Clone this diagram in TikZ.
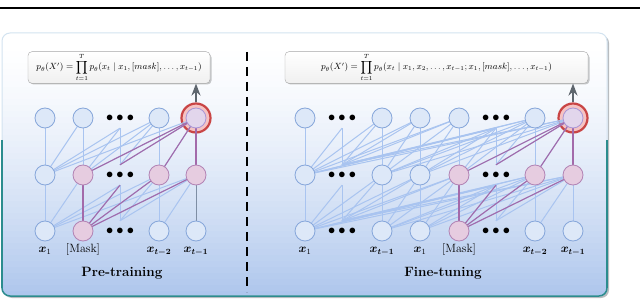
\documentclass[tikz,border=0pt]{standalone}
\usepackage{amsmath}
\usepackage{bm}
\usetikzlibrary{arrows.meta,positioning}

\definecolor{nodeblue}{HTML}{DDE8F8}
\definecolor{nodeblueline}{HTML}{86A6DA}
\definecolor{nodepurple}{HTML}{E6CCE0}
\definecolor{nodepurpleline}{HTML}{B283B4}
\definecolor{edgeblue}{HTML}{A9C4F0}
\definecolor{edgepurple}{HTML}{A36AAA}
\definecolor{edgegray}{HTML}{7E8EA4}
\definecolor{ringred}{HTML}{C94545}
\definecolor{ringfill}{HTML}{F5C3C3}
\definecolor{innerfill}{HTML}{E2D6EC}
\definecolor{innerline}{HTML}{A996D6}
\definecolor{arrowgray}{HTML}{5E666E}
\definecolor{panelbot}{HTML}{ABC4EC}
\definecolor{panellight}{HTML}{D3E3F0}
\definecolor{panelteal}{HTML}{2B8C8E}
\definecolor{shadowgray}{HTML}{B8BCC0}
\definecolor{boxshadow}{HTML}{C4C6C8}

\pgfdeclarelayer{bg}
\pgfdeclarelayer{edges}
\pgfsetlayers{bg,edges,main}

\begin{document}
\begin{tikzpicture}[x=1pt, y=-1pt, >=Stealth,
    tok/.style={circle, draw=nodeblueline, fill=nodeblue, line width=0.8pt, minimum size=20pt, inner sep=0pt},
    mtok/.style={tok, draw=nodepurpleline, fill=nodepurple},
    ringtok/.style={circle, draw=ringred, fill=ringfill, line width=2.2pt, minimum size=29pt, inner sep=0pt},
    innertok/.style={tok, draw=innerline, fill=innerfill},
    dotsnode/.style={minimum width=22pt, minimum height=20pt, inner sep=0pt, font=\fontsize{14}{14}\selectfont},
    blueedge/.style={edgeblue, line width=1pt},
    purpleedge/.style={edgepurple, line width=1.1pt},
    lbl/.style={font=\fontsize{12}{12}\selectfont, text height=8pt, text depth=3pt, inner sep=0pt},
    titlelbl/.style={font=\fontsize{13.5}{15}\selectfont\bfseries},
    formbox/.style={draw=gray!70, rounded corners=4pt, top color=white, bottom color=gray!12,
        font=\fontsize{9}{10}\selectfont, inner sep=2pt}]
    \useasboundingbox (0,0) rectangle (640,302);

    % Đường kẻ đầu trang
    \draw[line width=2pt] (0,8) -- (640,8);

    % Khung nền
    \begin{pgfonlayer}{bg}
        \fill[shadowgray, rounded corners=8pt] (4,35) rectangle (609,298);
        \begin{scope}
            \clip[rounded corners=8pt] (2,33) rectangle (607,296);
            \foreach \s in {0,...,43}{
                \pgfmathtruncatemacro\yy{33+6*\s}
                \pgfmathtruncatemacro\pc{100*((\yy-33)/263)^1.5}
                \fill[panelbot!\pc!white] (0,\yy) rectangle (610,300);
            }
        \end{scope}
        \draw[panellight, line width=1pt, rounded corners=8pt] (2,33) rectangle (607,296);
        % Viền xanh két phía dưới
        \draw[panelteal, line width=1.5pt] (2,140) -- (2,288);
        \draw[panelteal, line width=1.5pt] (2,288) arc[start angle=180, end angle=90, radius=8]
            -- (599,296) arc[start angle=90, end angle=0, radius=8];
        \draw[panelteal, line width=1.5pt] (607,288) -- (607,140);
        % Bóng của hai khung công thức
        \fill[boxshadow, rounded corners=4pt] (29.5,53.5) rectangle (211.5,84.5);
        \fill[boxshadow, rounded corners=4pt] (286.5,53.5) rectangle (589.5,84.5);
    \end{pgfonlayer}

    % Đường phân cách nét đứt
    \draw[line width=2.6pt, dash pattern=on 9pt off 6pt] (247,52) -- (247,292);

    % ===== Pre-training =====
    % Các nút
    \foreach \k/\x/\st in {1/45/tok,2/83/mtok,4/159/tok,5/196/tok}
        \node[\st] (Lb\k) at (\x,231) {};
    \foreach \k/\x/\st in {1/45/tok,2/83/mtok,4/159/mtok,5/196/mtok}
        \node[\st] (Lm\k) at (\x,175) {};
    \foreach \k/\x in {1/45,2/83,4/159}
        \node[tok] (Lt\k) at (\x,118) {};
    \foreach \r/\y in {b/231,m/175,t/118}
        \node[dotsnode] (L\r3) at (120,\y) {$\bullet\bullet\bullet$};
    \begin{pgfonlayer}{edges}
        \node[ringtok] (Lt5) at (196,118) {};
    \end{pgfonlayer}
    \node[innertok] (Lt5c) at (Lt5) {};

    % Các cạnh
    \begin{pgfonlayer}{edges}
        \foreach \i in {1,...,5}{
            \foreach \j in {1,...,\i}{
                \def\ao{center}\def\ai{center}
                \ifnum\j=3 \def\ao{north}\fi
                \ifnum\i=3 \def\ai{south}\fi
                \draw[blueedge] (Lb\j.\ao) -- (Lm\i.\ai);
                \draw[blueedge] (Lm\j.\ao) -- (Lt\i.\ai);
            }
        }
        \draw[edgegray, line width=0.9pt] (Lb5) -- (Lm5);
        \foreach \i/\ai in {2/center,3/south,4/center,5/center}
            \draw[purpleedge] (Lb2.center) -- (Lm\i.\ai);
        \foreach \j/\ao in {2/center,3/north,4/center,5/center}
            \draw[purpleedge] (Lm\j.\ao) -- (Lt5.center);
    \end{pgfonlayer}

    % Nhãn đầu vào
    \node[lbl, below=3pt of Lb1] (Llb1) {$\bm{x}_1$};
    \node[lbl, below=3pt of Lb2] (Llb2) {[Mask]};
    \node[lbl, below=3pt of Lb4] (Llb4) {$\bm{x}_{\bm{t-2}}$};
    \node[lbl, below=3pt of Lb5] (Llb5) {$\bm{x}_{\bm{t-1}}$};
    \node[titlelbl] (Ltitle) at (122,273) {Pre-training};

    % Công thức và mũi tên
    \node[formbox, minimum width=182pt, minimum height=31pt] (Lbox) at (119,67.5)
        {$p_\theta(X') = \displaystyle\prod_{t=1}^{T} p_\theta(x_t \mid x_1, [mask], \ldots, x_{t-1})$};
    \draw[->, arrowgray, line width=2pt] (Lt5.north) -- (Lt5.north |- Lbox.south);

    % ===== Fine-tuning =====
    % Các nút
    \foreach \k/\x/\st in {1/305/tok,3/382/tok,4/420/tok,5/459/mtok,7/535/tok,8/573/tok}
        \node[\st] (Rb\k) at (\x,231) {};
    \foreach \k/\x/\st in {1/305/tok,3/382/tok,4/420/tok,5/459/mtok,7/535/mtok,8/573/mtok}
        \node[\st] (Rm\k) at (\x,175) {};
    \foreach \k/\x in {1/305,3/382,4/420,5/459,7/535}
        \node[tok] (Rt\k) at (\x,118) {};
    \foreach \r/\y in {b/231,m/175,t/118}{
        \node[dotsnode] (R\r2) at (342,\y) {$\bullet\bullet\bullet$};
        \node[dotsnode] (R\r6) at (496,\y) {$\bullet\bullet\bullet$};
    }
    \begin{pgfonlayer}{edges}
        \node[ringtok] (Rt8) at (573,118) {};
    \end{pgfonlayer}
    \node[innertok] (Rt8c) at (Rt8) {};

    % Các cạnh
    \begin{pgfonlayer}{edges}
        \foreach \i in {1,...,8}{
            \foreach \j in {1,...,\i}{
                \def\ao{center}\def\ai{center}
                \ifnum\j=2 \def\ao{north}\fi
                \ifnum\j=6 \def\ao{north}\fi
                \ifnum\i=2 \def\ai{south}\fi
                \ifnum\i=6 \def\ai{south}\fi
                \draw[blueedge] (Rb\j.\ao) -- (Rm\i.\ai);
                \draw[blueedge] (Rm\j.\ao) -- (Rt\i.\ai);
            }
        }
        \foreach \i/\ai in {5/center,6/south,7/center,8/center}
            \draw[purpleedge] (Rb5.center) -- (Rm\i.\ai);
        \foreach \j/\ao in {5/center,6/north,7/center,8/center}
            \draw[purpleedge] (Rm\j.\ao) -- (Rt8.center);
    \end{pgfonlayer}

    % Nhãn đầu vào
    \node[lbl, below=3pt of Rb1] (Rlb1) {$\bm{x}_1$};
    \node[lbl, below=3pt of Rb3] (Rlb3) {$\bm{x}_{\bm{t-1}}$};
    \node[lbl, below=3pt of Rb4] (Rlb4) {$\bm{x}_1$};
    \node[lbl, below=3pt of Rb5] (Rlb5) {[Mask]};
    \node[lbl, below=3pt of Rb7] (Rlb7) {$\bm{x}_{\bm{t-2}}$};
    \node[lbl, below=3pt of Rb8] (Rlb8) {$\bm{x}_{\bm{t-1}}$};
    \node[titlelbl] (Rtitle) at (443,273) {Fine-tuning};

    % Công thức và mũi tên
    \node[formbox, minimum width=303pt, minimum height=31pt] (Rbox) at (436.5,67.5)
        {$p_\theta(X') = \displaystyle\prod_{t=1}^{T} p_\theta(x_t \mid x_1, x_2, \ldots, x_{t-1}; x_1, [mask], \ldots, x_{t-1})$};
    \draw[->, arrowgray, line width=2pt] (Rt8.north) -- (Rt8.north |- Rbox.south);
\end{tikzpicture}
\end{document}
